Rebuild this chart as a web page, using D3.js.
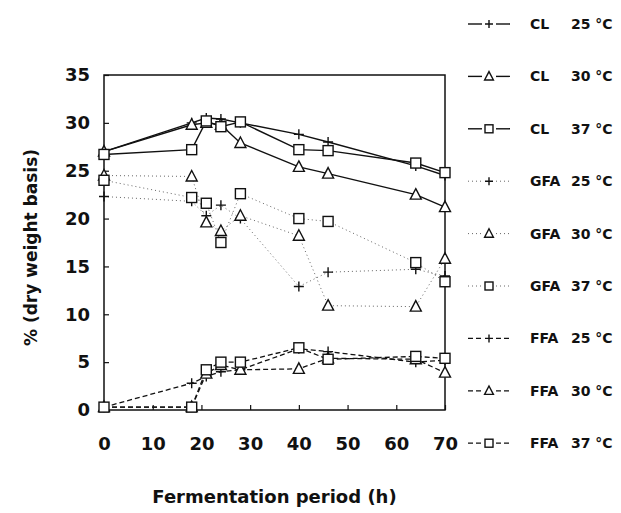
<!DOCTYPE html>
<html>
<head>
<meta charset="utf-8">
<script src="https://cdn.jsdelivr.net/npm/d3@7"></script>
<style>
  body { margin: 0; background: #fff; }
  svg { display: block; }
  text { font-family: "DejaVu Sans", sans-serif; font-weight: bold; fill: #111; }
</style>
</head>
<body>
<script>
// fermentation times (h)
const hours = [0, 18, 21, 24, 28, 40, 46, 64, 70];

// % dry weight basis, one array per series
const cl25  = [27.0, 30.0, 30.5, 30.4, 30.0, 28.8, 28.0, 25.5, 24.5];
const cl30  = [27.0, 29.8, 30.0, 29.8, 27.9, 25.4, 24.7, 22.5, 21.2];
const cl37  = [26.7, 27.2, 30.2, 29.6, 30.1, 27.2, 27.1, 25.8, 24.8];
const gfa25 = [22.3, 21.8, 20.3, 21.4, 20.0, 12.9, 14.4, 14.7, 14.0];
const gfa30 = [24.5, 24.4, 19.6, 18.7, 20.3, 18.2, 10.9, 10.8, 15.8];
const gfa37 = [24.0, 22.2, 21.6, 17.5, 22.6, 20.0, 19.7, 15.4, 13.4];
const ffa25 = [0.3, 2.8, 3.5, 4.0, 4.2, 6.4, 6.1, 5.0, 5.2];
const ffa30 = [0.3, 0.3, 3.8, 4.7, 4.2, 4.3, 5.4, 5.3, 3.9];
const ffa37 = [0.3, 0.3, 4.2, 5.0, 5.0, 6.5, 5.3, 5.6, 5.4];

const xTicks = [0, 10, 20, 30, 40, 50, 60, 70];
const yTicks = [0, 5, 10, 15, 20, 25, 30, 35];

const series = [
  {name: "CL",  temp: "25 °C", values: cl25,  marker: "plus",     line: "solid"},
  {name: "CL",  temp: "30 °C", values: cl30,  marker: "triangle", line: "solid"},
  {name: "CL",  temp: "37 °C", values: cl37,  marker: "square",   line: "solid"},
  {name: "GFA", temp: "25 °C", values: gfa25, marker: "plus",     line: "dotted"},
  {name: "GFA", temp: "30 °C", values: gfa30, marker: "triangle", line: "dotted"},
  {name: "GFA", temp: "37 °C", values: gfa37, marker: "square",   line: "dotted"},
  {name: "FFA", temp: "25 °C", values: ffa25, marker: "plus",     line: "dashed"},
  {name: "FFA", temp: "30 °C", values: ffa30, marker: "triangle", line: "dashed"},
  {name: "FFA", temp: "37 °C", values: ffa37, marker: "square",   line: "dashed"}
];

const W = 621, H = 513;
const plot = {left: 104, right: 445, top: 75, bottom: 410};

const svg = d3.select("body").append("svg")
  .attr("width", W).attr("height", H);

const x = d3.scaleLinear().domain([0, 70]).range([plot.left, plot.right]);
const y = d3.scaleLinear().domain([0, 35]).range([plot.bottom, plot.top]);

function lineStyle(sel, kind) {
  if (kind === "solid") {
    sel.attr("stroke", "#111").attr("stroke-width", 1.4);
  } else if (kind === "dotted") {
    sel.attr("stroke", "#666").attr("stroke-width", 1).attr("stroke-dasharray", "1,3");
  } else {
    sel.attr("stroke", "#111").attr("stroke-width", 1.3).attr("stroke-dasharray", "5,3");
  }
}

// s = half size of the marker
function drawMarker(g, kind, cx, cy, s) {
  if (kind === "plus") {
    g.append("path")
      .attr("d", `M${cx - s},${cy}H${cx + s}M${cx},${cy - s}V${cy + s}`)
      .attr("stroke", "#111").attr("stroke-width", 1.4).attr("fill", "none");
  } else if (kind === "triangle") {
    g.append("path")
      .attr("d", `M${cx},${cy - s * 1.2}L${cx + s * 1.1},${cy + s * 0.9}L${cx - s * 1.1},${cy + s * 0.9}Z`)
      .attr("stroke", "#111").attr("stroke-width", 1.4).attr("fill", "#fff");
  } else {
    g.append("rect")
      .attr("x", cx - s).attr("y", cy - s).attr("width", 2 * s).attr("height", 2 * s)
      .attr("stroke", "#111").attr("stroke-width", 1.4).attr("fill", "#fff");
  }
}

// frame
svg.append("rect")
  .attr("x", plot.left).attr("y", plot.top)
  .attr("width", plot.right - plot.left).attr("height", plot.bottom - plot.top)
  .attr("fill", "none").attr("stroke", "#111").attr("stroke-width", 1.5);

// axes with inward ticks
const yAxis = svg.append("g")
  .attr("transform", `translate(${plot.left},0)`)
  .call(d3.axisLeft(y).tickValues(yTicks).tickSizeInner(-5).tickSizeOuter(0).tickPadding(14));
yAxis.select(".domain").remove();
yAxis.selectAll("text").style("font-size", "18px").attr("fill", "#111");

const xAxis = svg.append("g")
  .attr("transform", `translate(0,${plot.bottom})`)
  .call(d3.axisBottom(x).tickValues(xTicks).tickSizeInner(-5).tickSizeOuter(0).tickPadding(27));
xAxis.select(".domain").remove();
xAxis.selectAll("text").style("font-size", "18px").attr("fill", "#111");
svg.selectAll(".tick line").attr("stroke", "#111").attr("stroke-width", 1.2);

// axis titles
svg.append("text")
  .attr("x", (plot.left + plot.right) / 2).attr("y", 503)
  .attr("text-anchor", "middle").style("font-size", "18px")
  .text("Fermentation period (h)");

svg.append("text")
  .attr("transform", `translate(37,${(plot.top + plot.bottom) / 2 + 5}) rotate(-90)`)
  .attr("text-anchor", "middle").style("font-size", "17px")
  .text("% (dry weight basis)");

// series lines and markers
const line = d3.line().x((d, i) => x(hours[i])).y(d => y(d));

series.forEach(s => {
  const p = svg.append("path").datum(s.values).attr("d", line).attr("fill", "none");
  lineStyle(p, s.line);
});
series.forEach(s => {
  const g = svg.append("g");
  s.values.forEach((v, i) => drawMarker(g, s.marker, x(hours[i]), y(v), 5));
});

// legend
const legend = svg.append("g");
series.forEach((s, i) => {
  const ly = 24 + i * 52.4;
  const g = legend.append("g");
  const segs = [[468, 482], [496, 510]];
  segs.forEach(sg => {
    const l = g.append("line").attr("x1", sg[0]).attr("x2", sg[1]).attr("y1", ly).attr("y2", ly);
    lineStyle(l, s.line);
  });
  drawMarker(g, s.marker, 489, ly, 4);
  g.append("text").attr("x", 530).attr("y", ly + 5).style("font-size", "14px").text(s.name);
  g.append("text").attr("x", 571).attr("y", ly + 5).style("font-size", "14px").text(s.temp);
});
</script>
</body>
</html>
